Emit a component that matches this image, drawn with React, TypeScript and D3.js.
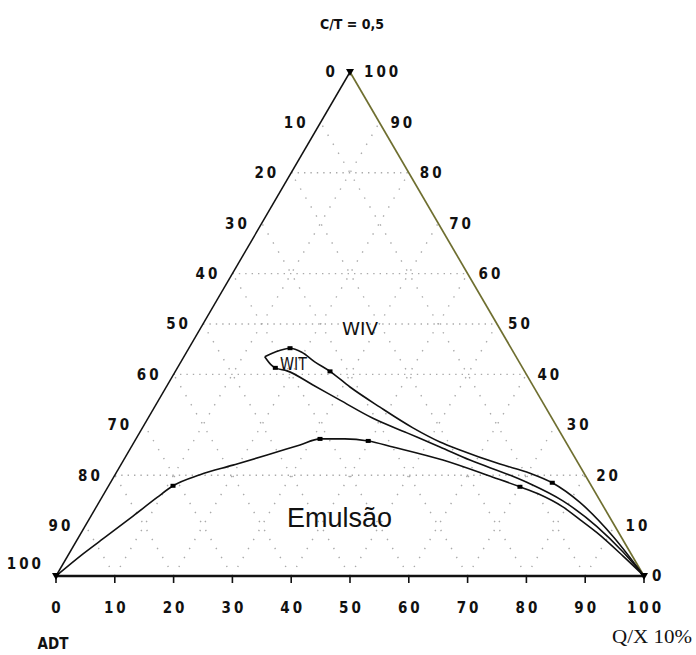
import React from "react";
import * as d3 from "d3";

// ---- data (x = bottom-axis value, h = right-axis value) ----
const tickValues: number[] = [0, 10, 20, 30, 40, 50, 60, 70, 80, 90, 100];
const gridLevels: number[] = [20, 40, 50, 60, 80];
const diagonalSteps: number[] = [10, 20, 30, 40, 50, 60, 70, 80, 90];

const emulsionBoundary: [number, number][] = [
  [0, 0], [4.6, 4.4], [8.7, 8.0], [13.1, 11.9], [17.2, 15.6], [19.9, 17.9],
  [24.5, 20.1], [30.1, 22.0], [35.9, 24.0], [41.5, 26.0], [44.9, 27.2],
  [49.1, 27.2], [53.1, 26.8], [57.3, 25.6], [65.8, 23.0], [74.3, 19.6],
  [78.9, 17.7], [82.0, 16.3], [86.2, 13.7], [89.1, 11.2], [92.0, 8.6],
  [96.4, 4.0], [100, 0],
];
const lowerLoopCurve: [number, number][] = [
  [35.5, 43.5], [36.5, 42.0], [37.3, 41.3], [39.3, 40.7], [43.7, 37.9],
  [48.3, 34.9], [53.9, 31.3], [59.7, 28.4], [65.3, 25.6], [70.4, 23.0],
  [77.2, 20.0], [80.6, 18.3], [86.2, 14.9], [92.0, 9.8], [96.4, 4.8], [100, 0],
];
const upperLoopCurve: [number, number][] = [
  [35.5, 43.5], [37.2, 44.4], [39.8, 45.2], [41.8, 44.4], [44.0, 42.5],
  [46.6, 40.6], [50.0, 37.5], [55.1, 33.5], [60.7, 29.4], [65.3, 26.6],
  [68.7, 25.0], [75.5, 22.2], [80.6, 20.4], [84.4, 18.5], [89.1, 14.6],
  [94.7, 7.9], [100, 0],
];
const curveMarkers: [number, number][] = [
  [19.9, 17.9], [44.9, 27.2], [53.1, 26.8], [78.9, 17.7],
  [37.3, 41.3], [39.8, 45.2], [46.6, 40.6], [84.4, 18.5],
];
const vertexMarkers: [number, number][] = [[0, 0], [100, 0], [50, 100]];

const title = "C/T = 0,5";
const leftTitle = "ADT";
const rightTitle = "Q/X 10%";
const regionLabels = { wiv: "WIV", wit: "WIT", emulsion: "Emulsão" };

const W = 696;
const H = 655;

export default function App() {
  const x = d3.scaleLinear().domain([0, 100]).range([56, 644]);
  const y = d3.scaleLinear().domain([0, 100]).range([576, 72]);
  const line = d3
    .line<[number, number]>()
    .x((d) => x(d[0]))
    .y((d) => y(d[1]))
    .curve(d3.curveMonotoneX);

  const labelFont = "'DejaVu Sans Condensed', 'DejaVu Sans', Arial, sans-serif";
  const gridColor = "#aaaaaa";

  return (
    <svg
      width={W}
      height={H}
      style={{ position: "absolute", left: 0, top: 0, background: "#fff" }}
    >
      {/* grid */}
      <g>
        {gridLevels.map((h) => (
          <line
            key={"h" + h}
            x1={x(h / 2)}
            x2={x(100 - h / 2)}
            y1={y(h)}
            y2={y(h)}
            stroke={gridColor}
            strokeWidth={1.4}
            strokeDasharray="1.4 5"
          />
        ))}
        {diagonalSteps.map((c) => (
          <line
            key={"a" + c}
            x1={x(c)}
            y1={y(0)}
            x2={x(c + (100 - c) / 2)}
            y2={y(100 - c)}
            stroke={gridColor}
            strokeWidth={1.4}
            strokeDasharray="1.4 9"
          />
        ))}
        {diagonalSteps.map((c) => (
          <line
            key={"b" + c}
            x1={x(c)}
            y1={y(0)}
            x2={x(c / 2)}
            y2={y(c)}
            stroke={gridColor}
            strokeWidth={1.4}
            strokeDasharray="1.4 9"
          />
        ))}
      </g>

      {/* triangle edges */}
      <line x1={x(0)} y1={y(0)} x2={x(50)} y2={y(100)} stroke="#111" strokeWidth={1.5} />
      <line x1={x(100)} y1={y(0)} x2={x(50)} y2={y(100)} stroke="#6f6f30" strokeWidth={1.7} />
      <line x1={x(0)} y1={y(0)} x2={x(100)} y2={y(0)} stroke="#111" strokeWidth={2.6} />
      {tickValues.map((v) => (
        <line key={"t" + v} x1={x(v)} x2={x(v)} y1={y(0)} y2={y(0) + 7} stroke="#111" strokeWidth={1.6} />
      ))}

      {/* curves */}
      {[emulsionBoundary, lowerLoopCurve, upperLoopCurve].map((c, i) => (
        <path key={"c" + i} d={line(c) || ""} fill="none" stroke="#111" strokeWidth={1.6} />
      ))}
      {curveMarkers.map((m, i) => (
        <rect key={"m" + i} x={x(m[0]) - 2.5} y={y(m[1]) - 2} width={5} height={4} fill="#000" />
      ))}
      {vertexMarkers.map((m, i) => (
        <path
          key={"v" + i}
          d={`M${x(m[0]) - 4},${y(m[1]) - 3}L${x(m[0]) + 4},${y(m[1]) - 3}L${x(m[0])},${y(m[1]) + 4}Z`}
          fill="#000"
        />
      ))}

      {/* left axis labels (0 at top, 100 at bottom) */}
      {tickValues.map((v) => {
        const h = 100 - v;
        return (
          <text
            key={"l" + v}
            x={x(h / 2) - 12}
            y={y(h) + (v === 100 ? -12 : 0)}
            dy="0.36em"
            textAnchor="end"
            fontFamily={labelFont}
            fontWeight="bold"
            fontSize={15}
            letterSpacing={3}
            fill="#111"
          >
            {v}
          </text>
        );
      })}
      {/* right axis labels */}
      {tickValues.map((v) => (
        <text
          key={"r" + v}
          x={x(100 - v / 2) + 11 + (v === 0 ? -3 : 0) + (v === 100 ? 3 : 0)}
          y={y(v)}
          dy="0.36em"
          textAnchor="start"
          fontFamily={labelFont}
          fontWeight="bold"
          fontSize={15}
          letterSpacing={3}
          fill="#111"
        >
          {v}
        </text>
      ))}
      {/* bottom axis labels */}
      {tickValues.map((v) => (
        <text
          key={"b" + v}
          x={x(v) + 1.5}
          y={613}
          textAnchor="middle"
          fontFamily={labelFont}
          fontWeight="bold"
          fontSize={15}
          letterSpacing={3}
          fill="#111"
        >
          {v}
        </text>
      ))}

      {/* titles */}
      <text x={352} y={29} textAnchor="middle" fontFamily={labelFont} fontWeight="bold" fontSize={14} fill="#111">
        {title}
      </text>
      <text x={53} y={649} textAnchor="middle" fontFamily={labelFont} fontWeight="bold" fontSize={15} fill="#111">
        {leftTitle}
      </text>
      <text
        x={612}
        y={643}
        fontFamily="'Liberation Serif', 'Times New Roman', serif"
        fontSize={18}
        textLength={80}
        lengthAdjust="spacingAndGlyphs"
        fill="#111"
      >
        {rightTitle}
      </text>

      {/* region labels */}
      <text
        x={342}
        y={335}
        fontFamily={labelFont}
        fontSize={17}
        textLength={36}
        lengthAdjust="spacingAndGlyphs"
        fill="#111"
      >
        {regionLabels.wiv}
      </text>
      <text
        x={280}
        y={370}
        fontFamily={labelFont}
        fontSize={17}
        textLength={27}
        lengthAdjust="spacingAndGlyphs"
        fill="#111"
      >
        {regionLabels.wit}
      </text>
      <text x={287} y={527} fontFamily="'Liberation Sans', Arial, sans-serif" fontSize={27} fill="#111">
        {regionLabels.emulsion}
      </text>
    </svg>
  );
}
